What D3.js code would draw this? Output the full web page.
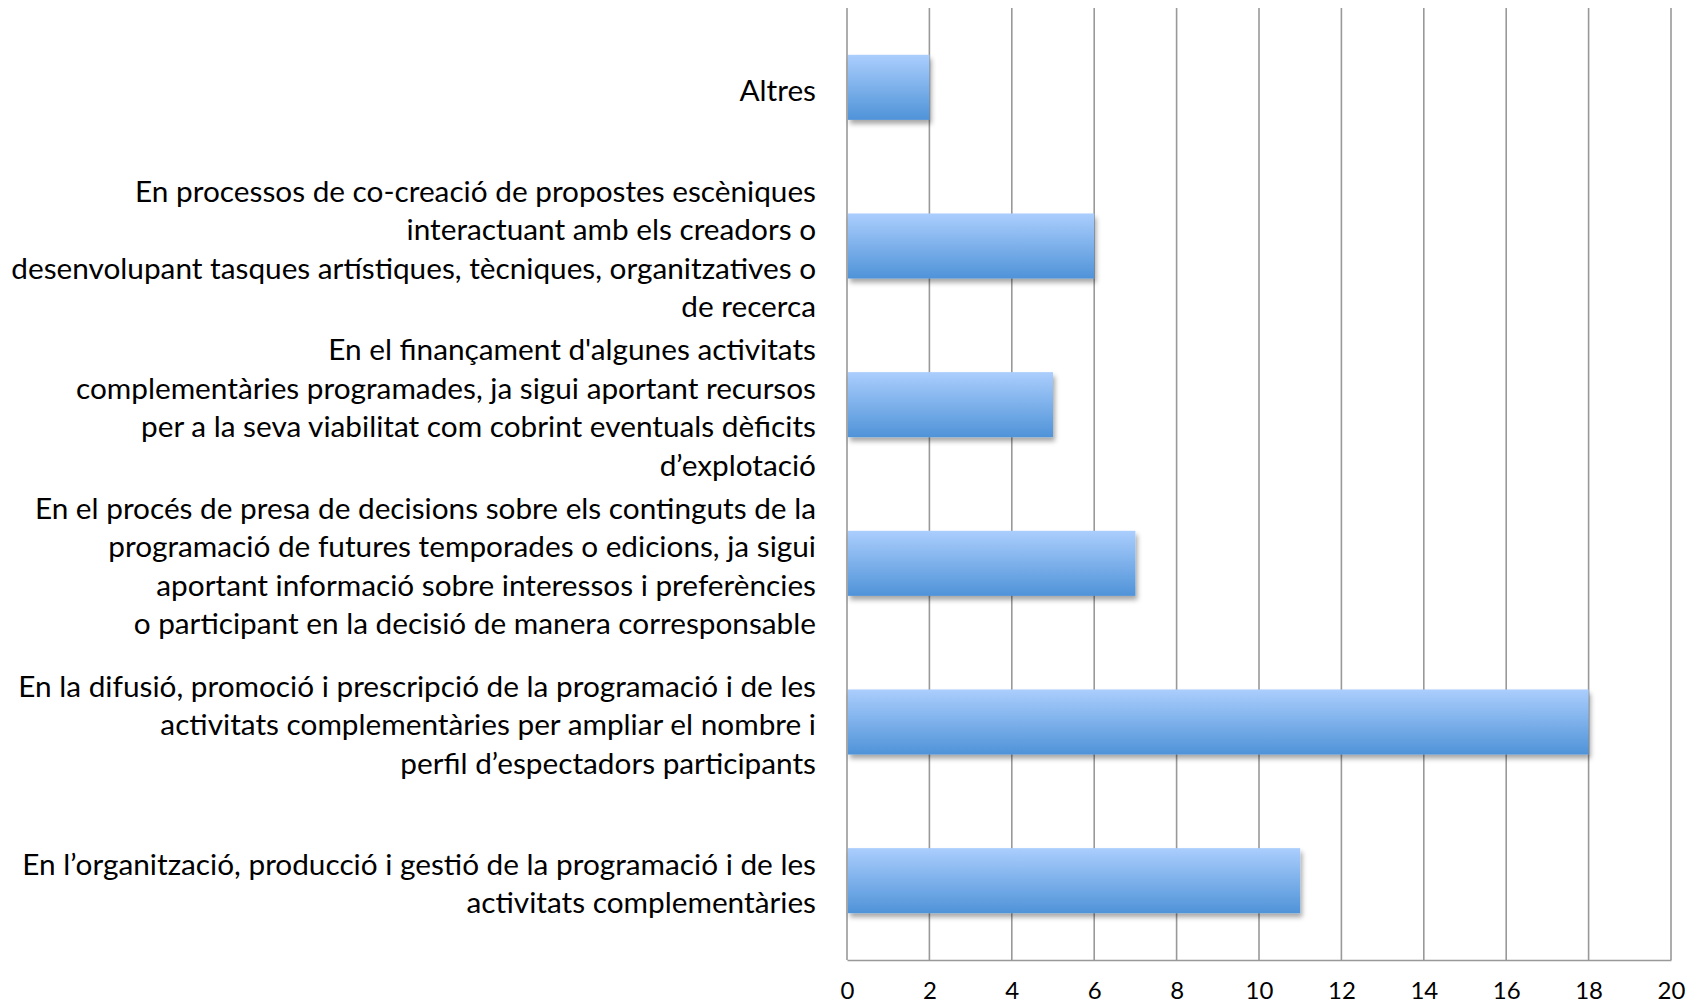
<!DOCTYPE html>
<html>
<head>
<meta charset="utf-8">
<script src="https://cdn.jsdelivr.net/npm/d3@7"></script>
<style>
  html, body { margin: 0; padding: 0; background: #fff; }
  svg { display: block; }
</style>
</head>
<body>
<svg id="chart" width="1700" height="1008"></svg>
<script>
// ---- data ----
const categories = [
  "Altres",
  "En processos de co-creació de propostes escèniques\ninteractuant amb els creadors o\ndesenvolupant tasques artístiques, tècniques, organitzatives o\nde recerca",
  "En el finançament d'algunes activitats\ncomplementàries programades, ja sigui aportant recursos\nper a la seva viabilitat com cobrint eventuals dèficits\nd’explotació",
  "En el procés de presa de decisions sobre els continguts de la\nprogramació de futures temporades o edicions, ja sigui\naportant informació sobre interessos i preferències\no participant en la decisió de manera corresponsable",
  "En la difusió, promoció i prescripció de la programació i de les\nactivitats complementàries per ampliar el nombre i\nperfil d’espectadors participants",
  "En l’organització, producció i gestió de la programació i de les\nactivitats complementàries"
];
const values = [2, 6, 5, 7, 18, 11];
const tickValues = [0, 2, 4, 6, 8, 10, 12, 14, 16, 18, 20];

// ---- layout ----
const margin = { left: 847, right: 1700 - 1671, top: 8, bottom: 1008 - 960 };
const W = 1700, H = 1008;
const svg = d3.select("#chart");
const fontFamily = "Lato, 'Open Sans', sans-serif";

const defs = svg.append("defs");
const grad = defs.append("linearGradient").attr("id", "barGrad")
  .attr("x1", 0).attr("y1", 0).attr("x2", 0).attr("y2", 1);
grad.append("stop").attr("offset", "0%").attr("stop-color", "#abcefd");
grad.append("stop").attr("offset", "100%").attr("stop-color", "#4f93d8");
const filt = defs.append("filter").attr("id", "shadow")
  .attr("x", "-10%").attr("y", "-20%").attr("width", "130%").attr("height", "150%");
filt.append("feDropShadow").attr("dx", 2).attr("dy", 4).attr("stdDeviation", 2.5)
  .attr("flood-color", "#000").attr("flood-opacity", 0.35);

const x = d3.scaleLinear().domain([0, 20]).range([margin.left, W - margin.right]);
const y = d3.scaleBand().domain(categories).range([margin.top, H - margin.bottom])
  .paddingInner(0.59).paddingOuter(0.295);

// gridlines
svg.append("g").selectAll("line").data(tickValues).join("line")
  .attr("x1", d => x(d)).attr("x2", d => x(d))
  .attr("y1", margin.top).attr("y2", H - margin.bottom)
  .attr("stroke", "#999").attr("stroke-width", 1.6);

// bottom axis
const xAxis = d3.axisBottom(x).tickValues(tickValues).tickSize(0).tickPadding(22);
const gx = svg.append("g").attr("transform", `translate(0,${H - margin.bottom})`).call(xAxis);
gx.select(".domain").attr("stroke", "#999").attr("stroke-width", 1.6);
gx.selectAll("text").attr("font-family", fontFamily).attr("font-size", 24).attr("fill", "#000");

// bars
svg.append("g").selectAll("rect").data(categories).join("rect")
  .attr("x", x(0) + 1)
  .attr("y", d => y(d))
  .attr("width", (d, i) => x(values[i]) - x(0) - 1)
  .attr("height", y.bandwidth())
  .attr("fill", "url(#barGrad)")
  .attr("filter", "url(#shadow)");

// category labels
const labelX = 816;
const lineH = 38.5;
let fontSize = 26;
const lab = svg.append("g").attr("font-family", fontFamily).attr("fill", "#000")
  .attr("text-anchor", "end");
categories.forEach(c => {
  const lines = c.split("\n");
  const cy = y(c) + y.bandwidth() / 2 + 3;
  const t = lab.append("text").attr("x", labelX);
  lines.forEach((ln, j) => {
    t.append("tspan").attr("x", labelX)
      .attr("y", cy + (j - (lines.length - 1) / 2) * lineH)
      .attr("dy", "0.35em").text(ln);
  });
});
lab.attr("font-size", fontSize);
// fit: longest line should span ~805px like the reference
let maxW = 0;
lab.selectAll("tspan").each(function() { maxW = Math.max(maxW, this.getComputedTextLength()); });
fontSize = fontSize * 805 / maxW;
lab.attr("font-size", fontSize);
</script>
</body>
</html>
